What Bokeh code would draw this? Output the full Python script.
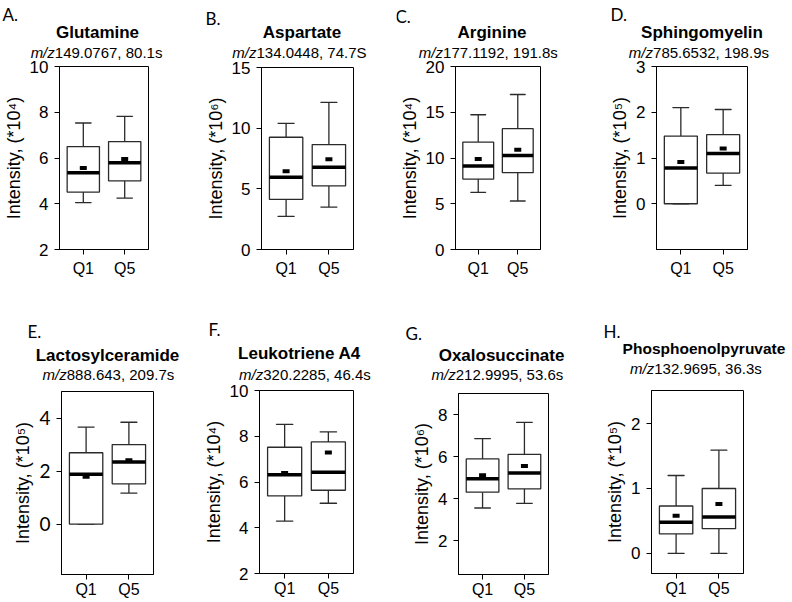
from bokeh.plotting import figure
from bokeh.layouts import row, column
from bokeh.models import FixedTicker, Label, Range1d, FactorRange
from bokeh.embed import file_html
from bokeh.resources import INLINE

# ---------------- data ----------------
groups = ["Q1", "Q5"]
letters = ["A.", "B.", "C.", "D.", "E.", "F.", "G.", "H."]
names = ["Glutamine", "Aspartate", "Arginine", "Sphingomyelin",
         "Lactosylceramide", "Leukotriene A4", "Oxalosuccinate", "Phosphoenolpyruvate"]
mz_rest = ["149.0767, 80.1s", " 134.0448, 74.7S", " 177.1192, 191.8s", " 785.6532, 198.9s",
           " 888.643, 209.7s", " 320.2285, 46.4s", " 212.9995, 53.6s", " 132.9695, 36.3s"]
exponents = ["\u2074", "\u2076", "\u2074", "\u2075", "\u2075", "\u2074", "\u2076", "\u2075"]

whisker_low = [[4.05, 4.25], [2.73, 3.5], [6.25, 5.3], [0.0, 0.4],
               [0.0, 1.17], [4.29, 5.07], [3.56, 3.78], [0.0, 0.0]]
quart1 = [[4.51, 5.0], [4.13, 5.25], [7.7, 8.4], [0.0, 0.67],
          [0.0, 1.52], [5.39, 5.64], [4.31, 4.47], [0.3, 0.38]]
median = [[5.35, 5.79], [5.96, 6.78], [9.12, 10.26], [0.78, 1.1],
          [1.88, 2.34], [6.32, 6.43], [4.95, 5.22], [0.48, 0.56]]
quart3 = [[6.5, 6.72], [9.25, 8.65], [11.74, 13.2], [1.48, 1.51],
          [2.69, 3.0], [7.52, 7.75], [5.89, 6.11], [0.73, 1.0]]
whisker_high = [[7.53, 7.82], [10.4, 12.12], [14.73, 16.94], [2.1, 2.06],
                [3.66, 3.84], [8.52, 8.19], [6.86, 7.63], [1.2, 1.59]]
mean = [[5.56, 5.96], [6.45, 7.44], [9.89, 10.91], [0.91, 1.21],
        [1.79, 2.41], [6.39, 7.29], [5.11, 5.55], [0.58, 0.76]]

y_ranges = [(2, 10), (0, 15), (0, 20), (-1, 3), (-1.9, 5), (2, 10), (0.4, 9), (-0.31, 2.51)]
y_ticks = [[2, 4, 6, 8, 10], [0, 5, 10, 15], [0, 5, 10, 15, 20], [0, 1, 2, 3],
           [0, 2, 4], [2, 4, 6, 8, 10], [2, 4, 6, 8], [0, 1, 2]]

# ---------------- layout (page pixel geometry, page origin at 0,0) ----------------
col_geom = [(0, 200), (200, 196), (396, 200), (596, 196),
            (0, 200), (200, 200), (400, 196), (596, 196)]
head_band = [(0, 60), (300, 82)]
plot_band = [(60, 240), (382, 220)]
frames = [(57, 148, 66, 249), (261, 353, 67, 249), (448, 540, 66, 249), (656, 747, 66, 249),
          (61, 153, 391, 574), (258, 353, 390, 573), (458, 548, 393, 574), (651, 743, 390, 573)]
TXT_SHIFT = 4.5   # svg text renders slightly below its anchor; compensate
letter_pos = [(2, 18), (205, 22), (395, 20), (610, 18), (27, 335), (208, 333), (405, 337), (603, 335)]
title_pos = [(97, 36), (301.5, 36), (491.5, 36), (701.5, 36),
             (107, 359), (299, 357), (501, 359), (703.5, 352)]
title_size = [17, 17, 17, 17, 17, 17, 17, 15.5]
sub_pos = [(96, 56), (301, 56.5), (490.5, 56), (700.5, 56.5),
           (110, 378.5), (306.5, 378), (499, 378.5), (697.5, 372)]
SUB_FS = 15

AW = {'0': .556, '1': .556, '2': .556, '3': .556, '4': .556, '5': .556, '6': .556,
      '7': .556, '8': .556, '9': .556, '.': .278, ',': .278, ' ': .278, 's': .5, 'S': .667}


def tw(s, fs):
    return sum(AW.get(c, .556) for c in s) * fs


FONT = "Liberation Sans"
LINE = "#2b2b2b"

panels = []
for i in range(8):
    r = 0 if i < 4 else 1
    fx, fw = col_geom[i]
    hy, hh = head_band[r]
    py, ph = plot_band[r]
    L, R, T, B = frames[i]

    # ---- header (letter, title, subtitle) ----
    h = figure(width=fw, height=hh, output_backend="svg", toolbar_location=None,
               x_range=Range1d(0, fw), y_range=Range1d(0, hh),
               x_axis_type=None, y_axis_type=None, min_border=0, frame_align=False)
    h.outline_line_color = None
    h.xgrid.visible = False
    h.ygrid.visible = False
    h.background_fill_color = "white"
    h.border_fill_color = "white"

    def hx(x):
        return x - fx

    def hy_(y):
        return hy + hh - (y - TXT_SHIFT)

    lx, ly = letter_pos[i]
    h.add_layout(Label(x=hx(lx), y=hy_(ly), text=letters[i],
                       text_font="Lato", text_font_size="17px", text_color="black",
                       text_baseline="alphabetic", text_align="left"))
    tx, ty = title_pos[i]
    h.add_layout(Label(x=hx(tx), y=hy_(ty), text=names[i],
                       text_font=FONT, text_font_style="bold",
                       text_font_size=f"{title_size[i]}px", text_color="black",
                       text_baseline="alphabetic", text_align="center"))
    cx, cy = sub_pos[i]
    w_mz = (0.833 + 0.278 + 0.5) * SUB_FS
    total = w_mz + tw(mz_rest[i], SUB_FS)
    left = cx - total / 2
    h.add_layout(Label(x=hx(left), y=hy_(cy), text="m/z",
                       text_font=FONT, text_font_style="italic",
                       text_font_size=f"{SUB_FS}px", text_color="black",
                       text_baseline="alphabetic", text_align="left"))
    h.add_layout(Label(x=hx(left + w_mz), y=hy_(cy), text=mz_rest[i],
                       text_font=FONT, text_font_size=f"{SUB_FS}px",
                       text_color="black", text_baseline="alphabetic", text_align="left"))

    # ---- box plot ----
    p = figure(width=fw, height=ph, output_backend="svg", toolbar_location=None,
               x_range=FactorRange(*groups, range_padding=0.075),
               y_range=Range1d(*y_ranges[i]), frame_align=False)
    p.min_border_left = L - fx
    p.min_border_right = fx + fw - R
    p.min_border_top = T - py
    p.min_border_bottom = py + ph - B
    p.background_fill_color = "white"
    p.border_fill_color = "white"
    p.outline_line_color = "black"
    p.outline_line_width = 1
    p.xgrid.visible = False
    p.ygrid.visible = False

    p.yaxis.ticker = FixedTicker(ticks=y_ticks[i])
    p.yaxis.minor_tick_line_color = None
    p.yaxis.major_tick_in = 0
    p.yaxis.major_tick_out = 5
    p.yaxis.major_label_standoff = 6
    p.yaxis.major_label_text_font = "Lato" if i == 4 else FONT
    p.yaxis.major_label_text_font_size = "19px" if i == 4 else "17px"
    p.yaxis.major_label_text_color = "black"
    p.yaxis.axis_label = "Intensity, (*10" + exponents[i] + ")"
    p.yaxis.axis_label_text_font = FONT
    p.yaxis.axis_label_text_font_style = "normal"
    p.yaxis.axis_label_text_font_size = "18px"
    p.yaxis.axis_label_text_color = "black"
    p.yaxis.axis_label_standoff = 3
    p.yaxis.axis_line_color = "black"
    p.yaxis.major_tick_line_color = "black"

    p.xaxis.major_tick_in = 0
    p.xaxis.major_tick_out = 5
    p.xaxis.major_label_standoff = 1 if i >= 4 else 5
    p.xaxis.major_label_text_font = FONT
    p.xaxis.major_label_text_font_size = "16px"
    p.xaxis.major_label_text_color = "black"
    p.xaxis.axis_line_color = "black"
    p.xaxis.major_tick_line_color = "black"

    p.segment(x0=groups, y0=quart3[i], x1=groups, y1=whisker_high[i],
              line_color=LINE, line_width=1.3)
    p.segment(x0=groups, y0=quart1[i], x1=groups, y1=whisker_low[i],
              line_color=LINE, line_width=1.3)
    p.rect(x=groups, y=whisker_high[i], width=0.38, height=0.01, height_units="screen",
           fill_color=None, line_color=LINE, line_width=1.3)
    p.rect(x=groups, y=whisker_low[i], width=0.38, height=0.01, height_units="screen",
           fill_color=None, line_color=LINE, line_width=1.3)
    p.vbar(x=groups, bottom=quart1[i], top=quart3[i], width=0.78,
           fill_color="white", line_color=LINE, line_width=1.3)
    p.rect(x=groups, y=median[i], width=0.78, height=3.5, height_units="screen",
           fill_color="black", line_color=None)
    p.rect(x=groups, y=mean[i], width=7, height=4, width_units="screen", height_units="screen",
           fill_color="black", line_color=None)

    panels.append(column(h, p, spacing=0))

layout = column(row(*panels[:4], spacing=0), row(*panels[4:], spacing=0), spacing=0)
open("out.html", "w").write(file_html(layout, INLINE))
